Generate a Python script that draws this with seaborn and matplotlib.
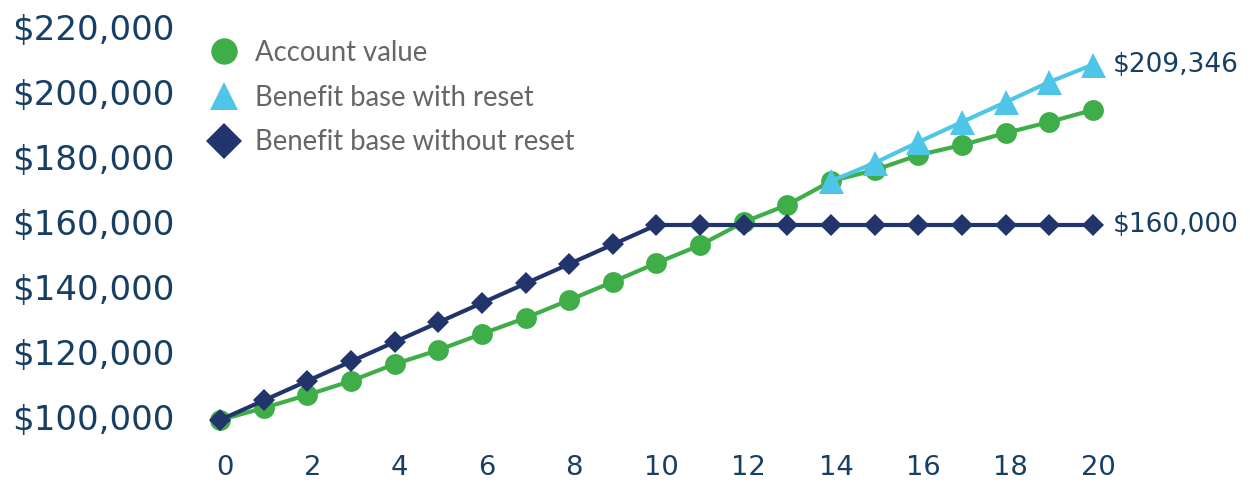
import matplotlib
matplotlib.use("Agg")
import matplotlib.pyplot as plt
import matplotlib.transforms as mtransforms
from matplotlib.lines import Line2D
import pandas as pd
import seaborn as sns

# values
years = list(range(21))
account_value = [100000, 103700, 107700, 112000, 117200, 121500, 126500, 131400,
                 136900, 142500, 148300, 153800, 160900, 166200, 173500, 176900,
                 181500, 184600, 188300, 191700, 195400]
reset_years = [14, 15, 16, 17, 18, 19, 20]
base_with_reset = [173500, 179100, 185500, 191700, 197800, 204000, 209346]
base_without_reset = [100000, 106000, 112000, 118000, 124000, 130000, 136000,
                      142000, 148000, 154000, 160000, 160000, 160000, 160000,
                      160000, 160000, 160000, 160000, 160000, 160000, 160000]
y_ticks = [100000, 120000, 140000, 160000, 180000, 200000, 220000]
x_ticks = [0, 2, 4, 6, 8, 10, 12, 14, 16, 18, 20]
labels = ["Account value", "Benefit base with reset", "Benefit base without reset"]

GREEN = "#3fae49"
LIGHT_BLUE = "#4fc6e8"
NAVY = "#22346c"
TEXT_BLUE = "#173f66"

sns.set_style("white")

df_av = pd.DataFrame({"year": years, "value": account_value})
df_wr = pd.DataFrame({"year": reset_years, "value": base_with_reset})
df_nr = pd.DataFrame({"year": years, "value": base_without_reset})

fig = plt.figure(figsize=(12.5, 4.83), dpi=100)
ax = fig.add_axes([0.16, 0.08903, 0.728, 0.87992])

sns.lineplot(data=df_av, x="year", y="value", color=GREEN, marker="o", ms=15,
             mew=0, lw=3, ax=ax)
sns.lineplot(data=df_wr, x="year", y="value", color=LIGHT_BLUE, marker="^", ms=18,
             mew=0, lw=3, ax=ax)
sns.lineplot(data=df_nr, x="year", y="value", color=NAVY, marker="D", ms=11,
             mew=0, lw=3, ax=ax)

ax.set_xlim(-0.458, 20.39)
ax.set_ylim(93846, 224615)
sns.despine(ax=ax, left=True, bottom=True)
ax.set(xlabel="", ylabel="")

ax.set_yticks(y_ticks)
ax.set_yticklabels([f"${v:,.0f}" for v in y_ticks])
ax.set_xticks(x_ticks)
ax.set_xticklabels([str(v) for v in x_ticks])
ax.tick_params(axis="y", length=0, pad=135.4, labelsize=24.5, labelcolor=TEXT_BLUE)
ax.tick_params(axis="x", length=0, pad=25.2, labelsize=19.7, labelcolor=TEXT_BLUE)

y_shift = mtransforms.ScaledTranslation(0, 3 / 100, fig.dpi_scale_trans)
for lab in ax.get_yticklabels():
    lab.set_horizontalalignment("left")
    lab.set_fontfamily("DejaVu Sans")
    lab.set_transform(lab.get_transform() + y_shift)
x_shift = mtransforms.ScaledTranslation(5 / 100, 0, fig.dpi_scale_trans)
for lab in ax.get_xticklabels():
    lab.set_verticalalignment("baseline")
    lab.set_fontfamily("DejaVu Sans")
    lab.set_transform(lab.get_transform() + x_shift)

# end labels
ax.annotate(f"${base_with_reset[-1]:,.0f}", xy=(reset_years[-1], base_with_reset[-1]),
            xytext=(20, 0), textcoords="offset pixels", va="center", ha="left",
            fontsize=19, color=TEXT_BLUE, annotation_clip=False)
ax.annotate(f"${base_without_reset[-1]:,.0f}", xy=(years[-1], base_without_reset[-1]),
            xytext=(20, 0), textcoords="offset pixels", va="center", ha="left",
            fontsize=19, color=TEXT_BLUE, annotation_clip=False)

# legend with markers only
handles = [
    Line2D([], [], ls="none", marker="o", ms=19, mew=0, color=GREEN),
    Line2D([], [], ls="none", marker="^", ms=20, mew=0, color=LIGHT_BLUE),
    Line2D([], [], ls="none", marker="D", ms=18.5, mew=0, color=NAVY),
]
leg = ax.legend(handles, labels, loc="upper left", bbox_to_anchor=(210 / 1250, 1 - 40 / 483),
                bbox_transform=fig.transFigure, frameon=False, borderpad=0,
                borderaxespad=0, handlelength=1.0, handletextpad=0.62,
                labelspacing=0.68, prop={"family": "Lato", "size": 19.8})
for t in leg.get_texts():
    t.set_color("#666666")

fig.savefig("out.png", dpi=100)
